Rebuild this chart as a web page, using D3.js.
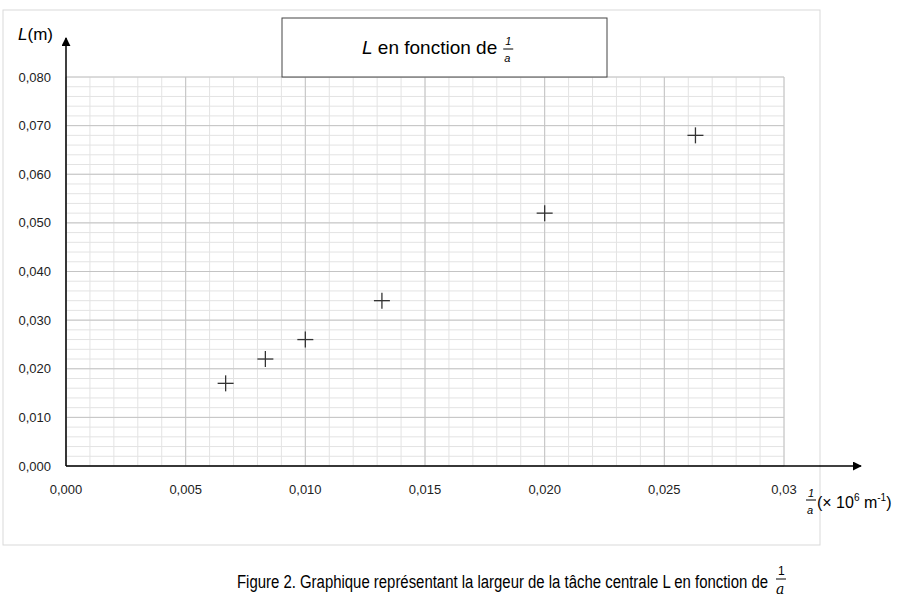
<!DOCTYPE html>
<html><head><meta charset="utf-8">
<script src="https://cdn.jsdelivr.net/npm/d3@7"></script>
<style>body{margin:0;background:#fff;font-family:"Liberation Sans",Arial,sans-serif}</style>
</head><body><div id="chart"></div>
<script>
var invA = [0.00667, 0.00833, 0.0100, 0.0132, 0.0200, 0.0263];
var largeur = [0.017, 0.022, 0.026, 0.034, 0.052, 0.068];
var xTicks = [0, 0.005, 0.010, 0.015, 0.020, 0.025, 0.030];
var xTickLabels = ["0,000", "0,005", "0,010", "0,015", "0,020", "0,025", "0,03"];
var yTicks = [0, 0.01, 0.02, 0.03, 0.04, 0.05, 0.06, 0.07, 0.08];

var svg = d3.select("#chart").append("svg").attr("width", 910).attr("height", 605);

var x = d3.scaleLinear().domain([0, 0.03]).range([66, 784]);
var y = d3.scaleLinear().domain([0, 0.08]).range([466, 77]);

// outer frame
svg.append("rect").attr("x", 3).attr("y", 10).attr("width", 817).attr("height", 535)
    .attr("fill", "none").attr("stroke", "#d9d9d9");

// minor grid
var g = svg.append("g");
d3.range(0, 0.0301, 0.001).forEach(function(v) {
    g.append("line").attr("x1", x(v)).attr("x2", x(v)).attr("y1", y(0)).attr("y2", y(0.08))
        .attr("stroke", "#e3e3e3").attr("stroke-width", 1);
});
d3.range(0, 0.0801, 0.002).forEach(function(v) {
    g.append("line").attr("x1", x(0)).attr("x2", x(0.03)).attr("y1", y(v)).attr("y2", y(v))
        .attr("stroke", "#e3e3e3").attr("stroke-width", 1);
});
// major grid
xTicks.forEach(function(v) {
    g.append("line").attr("x1", x(v)).attr("x2", x(v)).attr("y1", y(0)).attr("y2", y(0.08))
        .attr("stroke", "#c4c4c4").attr("stroke-width", 1);
});
yTicks.forEach(function(v) {
    g.append("line").attr("x1", x(0)).attr("x2", x(0.03)).attr("y1", y(v)).attr("y2", y(v))
        .attr("stroke", "#c4c4c4").attr("stroke-width", 1);
});

// axes with arrows
svg.append("defs").append("marker").attr("id", "arr").attr("viewBox", "0 0 10 10")
    .attr("refX", 9).attr("refY", 5).attr("markerWidth", 9).attr("markerHeight", 9)
    .attr("markerUnits", "userSpaceOnUse").attr("orient", "auto")
    .append("path").attr("d", "M0,0L10,5L0,10Z").attr("fill", "#000");
svg.append("line").attr("x1", x(0)).attr("x2", 861).attr("y1", y(0)).attr("y2", y(0))
    .attr("stroke", "#000").attr("stroke-width", 1.5).attr("marker-end", "url(#arr)");
svg.append("line").attr("x1", x(0)).attr("x2", x(0)).attr("y1", y(0)).attr("y2", 38)
    .attr("stroke", "#000").attr("stroke-width", 1.5).attr("marker-end", "url(#arr)");

// tick labels
svg.selectAll(".yl").data(yTicks).enter().append("text")
    .attr("x", 51).attr("y", function(d) { return y(d) + 4.5; }).attr("text-anchor", "end")
    .attr("font-size", 13).attr("fill", "#222")
    .text(function(d) { return d3.format(".3f")(d).replace(".", ","); });
svg.selectAll(".xl").data(xTicks).enter().append("text")
    .attr("x", function(d) { return x(d); }).attr("y", 494).attr("text-anchor", "middle")
    .attr("font-size", 13).attr("fill", "#222")
    .text(function(d, i) { return xTickLabels[i]; });

// axis titles
var yt = svg.append("text").attr("x", 18).attr("y", 40).attr("font-size", 17);
yt.append("tspan").attr("font-style", "italic").text("L");
yt.append("tspan").text("(m)");

var xt = svg.append("g").attr("transform", "translate(808,0)");
xt.append("text").attr("x", 0).attr("y", 497).attr("font-size", 11).attr("font-style", "italic").text("1");
xt.append("line").attr("x1", -2).attr("x2", 8).attr("y1", 500).attr("y2", 500).attr("stroke", "#000");
xt.append("text").attr("x", -1).attr("y", 514).attr("font-size", 11).attr("font-style", "italic").text("a");
var xt2 = xt.append("text").attr("x", 9).attr("y", 508).attr("font-size", 16);
xt2.append("tspan").text("(× 10");
xt2.append("tspan").attr("font-size", 10).attr("dy", -7).text("6");
xt2.append("tspan").attr("dy", 7).text(" m");
xt2.append("tspan").attr("font-size", 10).attr("dy", -7).text("-1");
xt2.append("tspan").attr("dy", 7).text(")");

// title box
svg.append("rect").attr("x", 282).attr("y", 18).attr("width", 325).attr("height", 59)
    .attr("fill", "#fff").attr("stroke", "#444");
var tt = svg.append("text").attr("x", 362).attr("y", 54).attr("font-size", 19);
tt.append("tspan").attr("font-style", "italic").text("L");
tt.append("tspan").text(" en fonction de");
var tx = 362 + tt.node().getComputedTextLength() + 6;
svg.append("text").attr("x", tx + 2).attr("y", 45).attr("font-size", 11).attr("font-style", "italic").text("1");
svg.append("line").attr("x1", tx).attr("x2", tx + 10).attr("y1", 49).attr("y2", 49).attr("stroke", "#000");
svg.append("text").attr("x", tx + 1).attr("y", 62).attr("font-size", 11).attr("font-style", "italic").text("a");

// points as crosses
var pts = svg.selectAll(".pt").data(invA).enter().append("g")
    .attr("transform", function(d, i) { return "translate(" + x(d) + "," + y(largeur[i]) + ")"; });
pts.append("line").attr("x1", -8).attr("x2", 8).attr("stroke", "#333").attr("stroke-width", 1.3);
pts.append("line").attr("y1", -8).attr("y2", 8).attr("stroke", "#333").attr("stroke-width", 1.3);

// caption
var cap = svg.append("text").attr("x", 237).attr("y", 588).attr("font-size", 18)
    .attr("textLength", 531).attr("lengthAdjust", "spacingAndGlyphs")
    .text("Figure 2. Graphique représentant la largeur de la tâche centrale L en fonction de");
var cx = 237 + 531 + 8;
svg.append("text").attr("x", cx + 2).attr("y", 575).attr("font-size", 12).text("1");
svg.append("line").attr("x1", cx).attr("x2", cx + 10).attr("y1", 579).attr("y2", 579).attr("stroke", "#000");
svg.append("text").attr("x", cx).attr("y", 594).attr("font-size", 14)
    .attr("font-family", "DejaVu Serif").attr("font-style", "italic").text("a");
</script></body></html>
